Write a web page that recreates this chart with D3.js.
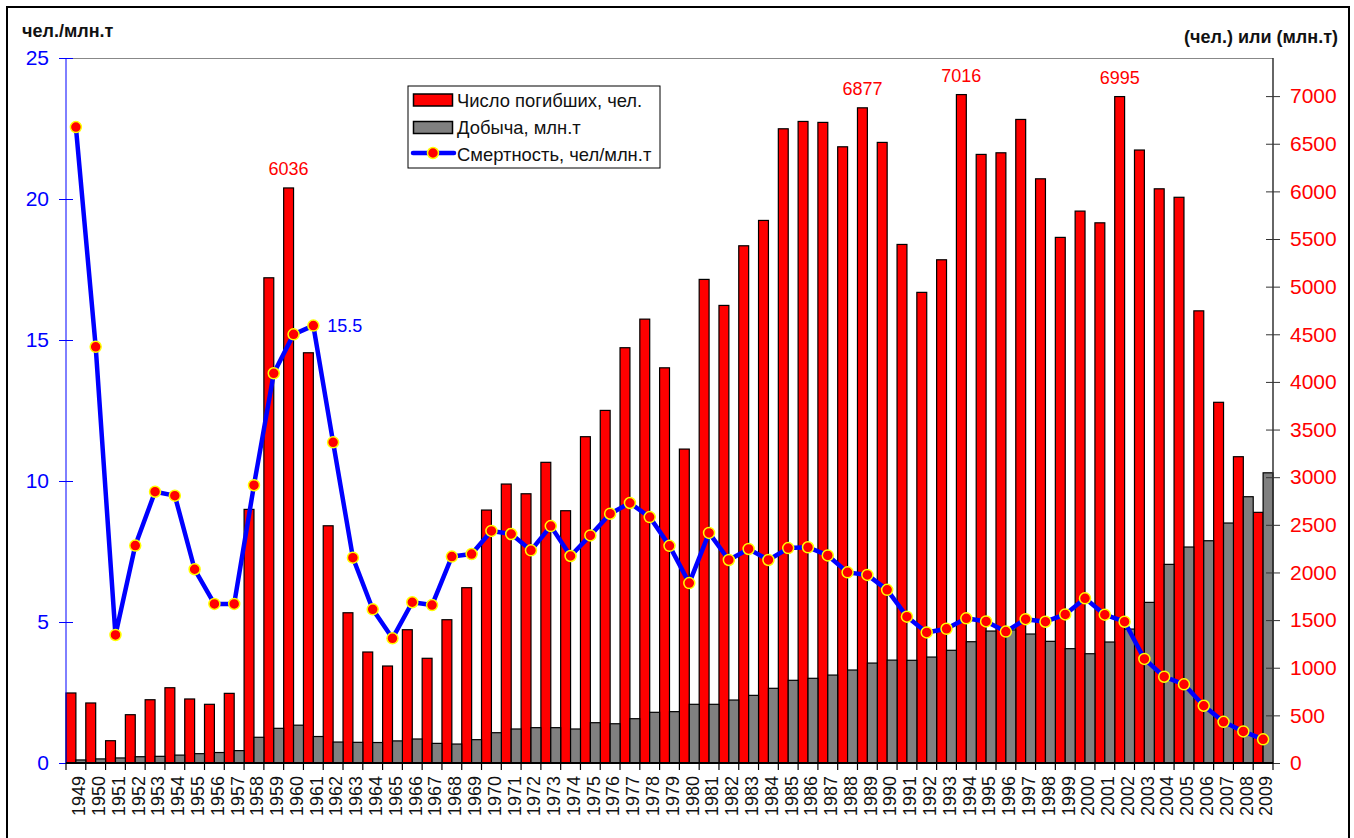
<!DOCTYPE html>
<html><head><meta charset="utf-8">
<script src="https://cdn.jsdelivr.net/npm/d3@7"></script>
<style>
html,body{margin:0;padding:0;background:#fff;}
svg text{font-family:"Liberation Sans",Arial,Helvetica,sans-serif;}
</style></head>
<body>
<svg id="chart" width="1354" height="838"></svg>
<script>
const years = d3.range(1949, 2010).map(String);
const deaths = [735,630,234,507,664,790,672,616,731,2662,5093,6036,4306,2490,1577,1165,1018,1399,1099,1504,1840,2655,2928,2826,3156,2648,3425,3701,4359,4659,4148,3295,5076,4803,5429,5695,6657,6734,6724,6468,6877,6514,5443,4940,5282,7016,6388,6405,6755,6132,5517,5793,5670,6995,6434,6027,5938,4746,3786,3215,2631];
const production = [32,43,53,66,70,83,98,110,130,270,364,397,278,220,217,215,232,252,206,199,245,318,357,371,371,357,423,412,465,532,539,616,616,661,710,784,868,889,923,976,1049,1080,1078,1112,1183,1273,1385,1397,1354,1277,1200,1147,1270,1406,1686,2085,2267,2333,2519,2795,3046];
const mortality = [22.55,14.76,4.54,7.71,9.62,9.48,6.87,5.64,5.64,9.85,13.82,15.20,15.51,11.37,7.28,5.45,4.42,5.70,5.60,7.32,7.41,8.23,8.12,7.54,8.40,7.34,8.07,8.84,9.22,8.72,7.70,6.38,8.16,7.20,7.59,7.20,7.62,7.65,7.36,6.76,6.67,6.14,5.19,4.63,4.76,5.13,5.02,4.66,5.10,5.01,5.27,5.84,5.26,5.01,3.69,3.06,2.79,2.03,1.46,1.12,0.84];
const leftTicks = [0,5,10,15,20,25];
const rightTicks = [0,500,1000,1500,2000,2500,3000,3500,4000,4500,5000,5500,6000,6500,7000];
const deathLabels = [["1960","6036"],["1989","6877"],["1994","7016"],["2002","6995"]];
const mortalityLabels = [["1961","15.5"]];
const legendItems = ["Число погибших, чел.","Добыча, млн.т","Смертность, чел/млн.т"];
const leftTitle = "чел./млн.т";
const rightTitle = "(чел.) или (млн.т)";

const svg = d3.select("#chart");
const L = 66, R = 1273, T = 58, B = 763;

const x = d3.scaleBand().domain(years).range([L, R]).padding(0);
const yL = d3.scaleLinear().domain([0, 25]).range([B, T]);
const yR = d3.scaleLinear().domain([0, 7400]).range([B, T]);
const bw = x.bandwidth();

// outer frame
svg.append("rect").attr("x",7).attr("y",7).attr("width",1342).attr("height",850)
  .attr("fill","none").attr("stroke","#000").attr("stroke-width",2);

// top border of plot
svg.append("line").attr("x1",L).attr("x2",R).attr("y1",T+0.5).attr("y2",T+0.5)
  .attr("stroke","#888").attr("stroke-width",1.2);

// bars
const data = years.map((y,i)=>({year:y, d:deaths[i], p:production[i], m:mortality[i]}));
svg.append("g").selectAll("rect").data(data).join("rect")
  .attr("x", d=>x(d.year)).attr("width", bw/2)
  .attr("y", d=>yR(d.d)).attr("height", d=>B - yR(d.d))
  .attr("fill","#ff0000").attr("stroke","#000").attr("stroke-width",1.2);
svg.append("g").selectAll("rect").data(data).join("rect")
  .attr("x", d=>x(d.year)+bw/2).attr("width", bw/2)
  .attr("y", d=>yR(d.p)).attr("height", d=>B - yR(d.p))
  .attr("fill","#808080").attr("stroke","#000").attr("stroke-width",1.2);

// line
const cx = d=>x(d.year)+bw/2;
svg.append("path").datum(data)
  .attr("d", d3.line().x(cx).y(d=>yL(d.m)))
  .attr("fill","none").attr("stroke","#0000ff").attr("stroke-width",4.5).attr("stroke-linejoin","round");
svg.append("g").selectAll("circle").data(data).join("circle")
  .attr("cx", cx).attr("cy", d=>yL(d.m)).attr("r",5.5)
  .attr("fill","#ff0000").attr("stroke","#ffff00").attr("stroke-width",1.5);

// left axis
const gL = svg.append("g").attr("transform",`translate(${L},0)`)
  .call(d3.axisLeft(yL).tickValues(leftTicks).tickSize(7).tickPadding(10).tickFormat(d3.format("d")));
gL.select(".domain").attr("stroke","#0000ff").attr("d",`M0,${T}V${B}`);
gL.selectAll(".tick line").attr("stroke","#0000ff").attr("x1",7);
gL.selectAll("text").attr("fill","#0000ff").style("font-size","21px");

// right axis
const gR = svg.append("g").attr("transform",`translate(${R},0)`)
  .call(d3.axisRight(yR).tickValues(rightTicks).tickSize(7).tickPadding(10).tickFormat(d3.format("d")));
gR.select(".domain").attr("stroke","#333").attr("stroke-width",1.5).attr("d",`M0,${T}V${B}`);
gR.selectAll(".tick line").attr("stroke","#333").attr("x1",-7);
gR.selectAll("text").attr("fill","#ff0000").style("font-size","21px");

// bottom axis
const gB = svg.append("g").attr("transform",`translate(0,${B})`)
  .call(d3.axisBottom(x).tickSize(0).tickFormat(d=>d));
gB.select(".domain").attr("stroke","#000").attr("stroke-width",2).attr("d",`M${L},0H${R}`);
gB.selectAll(".tick text")
  .attr("transform","rotate(-90)").attr("x",-13).attr("y",3)
  .attr("dy","0.35em").attr("text-anchor","end")
  .attr("fill","#111").style("font-size","18px");
svg.append("g").selectAll("line").data(years.concat(["end"])).join("line")
  .attr("x1", (d,i)=>L + i*bw).attr("x2",(d,i)=>L + i*bw)
  .attr("y1",B).attr("y2",B+7).attr("stroke","#000").attr("stroke-width",1.2);

// data labels
svg.append("g").selectAll("text").data(deathLabels).join("text")
  .attr("x", d=>x(d[0])+bw/4)
  .attr("y", d=>yR(deaths[years.indexOf(d[0])]) - 13)
  .attr("text-anchor","middle").attr("fill","#ff0000").style("font-size","18px")
  .text(d=>d[1]);
svg.append("g").selectAll("text").data(mortalityLabels).join("text")
  .attr("x", d=>x(d[0])+bw/2 + 14)
  .attr("y", d=>yL(mortality[years.indexOf(d[0])]) + 6)
  .attr("fill","#0000ff").style("font-size","18px")
  .text(d=>d[1]);

// axis titles
svg.append("text").attr("x",22).attr("y",37).attr("font-weight","bold")
  .style("font-size","18px").attr("fill","#111").text(leftTitle);
svg.append("text").attr("x",1338).attr("y",43).attr("text-anchor","end").attr("font-weight","bold")
  .style("font-size","18px").attr("fill","#111").text(rightTitle);

// legend
const lg = svg.append("g");
lg.append("rect").attr("x",408).attr("y",86).attr("width",252).attr("height",82)
  .attr("fill","#fff").attr("stroke","#000").attr("stroke-width",1);
lg.append("rect").attr("x",413.5).attr("y",94).attr("width",39).attr("height",12)
  .attr("fill","#ff0000").attr("stroke","#000").attr("stroke-width",1.5);
lg.append("rect").attr("x",413.5).attr("y",121.5).attr("width",39).attr("height",12)
  .attr("fill","#808080").attr("stroke","#000").attr("stroke-width",1.5);
lg.append("line").attr("x1",413).attr("x2",454).attr("y1",153).attr("y2",153)
  .attr("stroke","#0000ff").attr("stroke-width",4.5).attr("stroke-linecap","round");
lg.append("circle").attr("cx",433).attr("cy",153).attr("r",5.5)
  .attr("fill","#ff0000").attr("stroke","#ffff00").attr("stroke-width",1.5);
lg.selectAll("text.lt").data(legendItems).join("text").attr("class","lt")
  .attr("x",457).attr("y",(d,i)=>107 + i*27)
  .attr("fill","#111").style("font-size","18.4px").text(d=>d);
</script>
</body></html>
